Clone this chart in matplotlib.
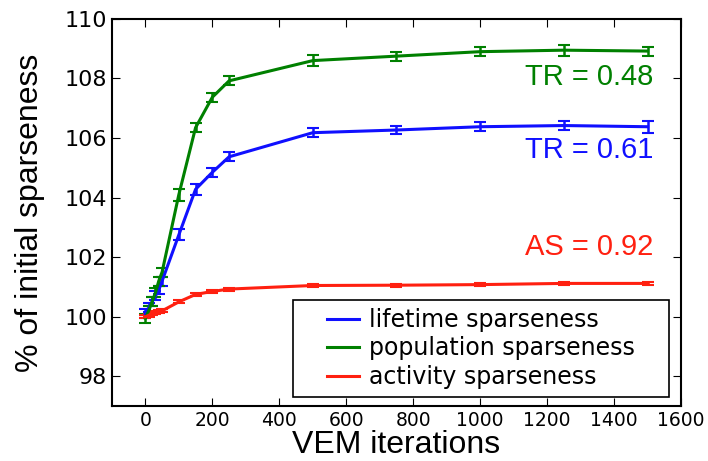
import matplotlib
matplotlib.use('Agg')
import matplotlib.pyplot as plt
from matplotlib.lines import Line2D
from matplotlib.legend_handler import HandlerLine2D

# VEM iterations
iters = [0, 10, 20, 30, 40, 50, 100, 150, 200, 250, 500, 750, 1000, 1250, 1500]

# % of initial sparseness
lifetime = [100.1, 100.3, 100.5, 100.7, 100.9, 101.2, 102.75, 104.28, 104.85, 105.37,
            106.18, 106.27, 106.38, 106.42, 106.38]
lifetime_err = [0.15, 0.15, 0.15, 0.15, 0.15, 0.15, 0.18, 0.18, 0.15, 0.15,
                0.15, 0.15, 0.15, 0.15, 0.2]
population = [99.95, 100.2, 100.5, 100.8, 101.2, 101.5, 104.1, 106.35, 107.37, 107.92,
              108.6, 108.75, 108.9, 108.95, 108.92]
population_err = [0.15, 0.15, 0.15, 0.15, 0.15, 0.15, 0.2, 0.15, 0.15, 0.15,
                  0.18, 0.15, 0.15, 0.18, 0.15]
activity = [100.0, 100.05, 100.1, 100.15, 100.18, 100.2, 100.5, 100.75, 100.85, 100.93,
            101.05, 101.06, 101.08, 101.12, 101.12]
activity_err = [0.05] * 15

labels = ['lifetime sparseness', 'population sparseness', 'activity sparseness']
colors = ['#1010ff', '#008000', '#ff2010']

plt.rcParams['xtick.direction'] = 'in'
plt.rcParams['ytick.direction'] = 'in'
plt.rcParams['xtick.top'] = True
plt.rcParams['ytick.right'] = True
plt.rcParams['xtick.major.size'] = 6
plt.rcParams['ytick.major.size'] = 6

fig = plt.figure(figsize=(7.08, 4.61), dpi=100)
ax = fig.add_axes([0.158, 0.119, 0.804, 0.84])

for y, e, lab, c in zip([lifetime, population, activity],
                        [lifetime_err, population_err, activity_err], labels, colors):
    ax.errorbar(iters, y, yerr=e, color=c, lw=2.2, elinewidth=1.8, capsize=4,
                capthick=1.5, label=lab)

ax.text(1516, 108.05, 'TR = 0.48', color=colors[1], fontsize=21, ha='right', va='center',
        family='Liberation Sans')
ax.text(1516, 105.6, 'TR = 0.61', color=colors[0], fontsize=21, ha='right', va='center',
        family='Liberation Sans')
ax.text(1516, 102.35, 'AS = 0.92', color=colors[2], fontsize=21, ha='right', va='center',
        family='Liberation Sans')

ax.set_xlim(-100, 1600)
ax.set_ylim(97, 110)
ax.set_xticks(range(0, 1601, 200))
ax.set_yticks(range(98, 111, 2))
ax.tick_params(axis='x', labelsize=13.5)
ax.tick_params(axis='y', labelsize=16)
for s in ax.spines.values():
    s.set_linewidth(1.5)

ax.set_xlabel('VEM iterations', fontsize=23, family='Liberation Sans', labelpad=0)
ax.set_ylabel('% of initial sparseness', fontsize=23, family='Liberation Sans', labelpad=14)

handles, labs = ax.get_legend_handles_labels()
handles = [h[0] for h in handles]
leg = ax.legend(handles, labs, loc='lower left', bbox_to_anchor=(0.318, 0.023, 0.661, 0.27),
                mode='expand', borderaxespad=0, fontsize=17, fancybox=False,
                edgecolor='black', framealpha=1, handlelength=2.46, handletextpad=0.42,
                borderpad=0.35, labelspacing=0.19,
                handler_map={Line2D: HandlerLine2D(xpad=1.1)})
leg.get_frame().set_linewidth(1.2)

fig.savefig('out.png', dpi=100)
